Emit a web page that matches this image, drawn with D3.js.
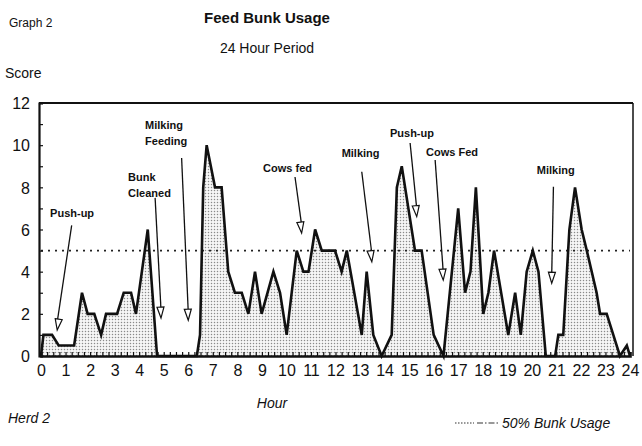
<!DOCTYPE html>
<html>
<head>
<meta charset="utf-8">
<script src="https://cdn.jsdelivr.net/npm/d3@7"></script>
<style>
  body { margin: 0; background: #fff; }
  text { font-family: "Liberation Sans", Arial, sans-serif; fill: #111; }
</style>
</head>
<body>
<div id="chart"></div>
<script>
// hour of day and bunk score
const hours = [0, 0.1, 0.45, 0.72, 1.35, 1.67, 1.9, 2.17, 2.45, 2.65, 3.1, 3.37, 3.67, 3.87, 4.35, 4.73,
  6.35, 6.48, 6.61, 6.75, 7.09, 7.36, 7.63, 7.9, 8.18, 8.45, 8.72, 8.99, 9.47, 9.74, 10.01,
  10.42, 10.69, 10.9, 11.17, 11.44, 11.98, 12.25, 12.46, 13.07, 13.27, 13.54, 13.88, 14.29,
  14.5, 14.7, 15.24, 15.51, 16.0, 16.4, 17.0, 17.28, 17.5, 17.72, 18.02, 18.23, 18.46, 19.04,
  19.32, 19.55, 19.79, 20.04, 20.27, 20.57, 20.95, 21.08, 21.28, 21.53, 21.76, 22.03, 22.24,
  22.64, 22.78, 23.05, 23.32, 23.59, 23.87, 24];
const scores = [0, 1, 1, 0.5, 0.5, 3, 2, 2, 1, 2, 2, 3, 3, 2, 6, 0,
  0, 1, 8, 10, 8, 8, 4, 3, 3, 2, 4, 2, 4, 3, 1,
  5, 4, 4, 6, 5, 5, 4, 5, 1, 4, 1, 0, 1,
  8, 9, 5, 5, 1, 0, 7, 3, 4, 8, 2, 3, 5, 1,
  3, 1, 4, 5, 4, 0, 0, 1, 1, 6, 8, 6, 5,
  3, 2, 2, 1, 0, 0.5, 0];
const yTicks = [0, 2, 4, 6, 8, 10, 12];
const xTicks = d3.range(0, 25);
const halfUsage = 5;

// event notes: text position and arrow (hour, score)
const notes = [
  {lines: ['Push-up'], tx: 0.37, ty: 6.59, x1: 1.25, y1: 6.2, x2: 0.66, y2: 1.23},
  {lines: ['Bunk', 'Cleaned'], tx: 3.55, ty: 8.3, x1: 4.65, y1: 7.5, x2: 4.89, y2: 1.8},
  {lines: ['Milking', 'Feeding'], tx: 4.24, ty: 10.77, x1: 5.73, y1: 9.39, x2: 6.0, y2: 1.7},
  {lines: ['Cows fed'], tx: 9.05, ty: 8.73, x1: 10.35, y1: 8.49, x2: 10.62, y2: 5.83},
  {lines: ['Milking'], tx: 12.25, ty: 9.44, x1: 13.07, y1: 8.74, x2: 13.48, y2: 4.47},
  {lines: ['Push-up'], tx: 14.22, ty: 10.39, x1: 15.04, y1: 10.1, x2: 15.31, y2: 6.61},
  {lines: ['Cows Fed'], tx: 15.69, ty: 9.49, x1: 16.06, y1: 9.3, x2: 16.39, y2: 3.6},
  {lines: ['Milking'], tx: 20.2, ty: 8.63, x1: 20.88, y1: 8.03, x2: 20.81, y2: 3.45}
];

const width = 642, height = 446;
const svg = d3.select('#chart').append('svg')
  .attr('width', width).attr('height', height);

const x = d3.scaleLinear().domain([0, 24]).range([41, 630]);
const y = d3.scaleLinear().domain([0, 12]).range([356, 103]);

const defs = svg.append('defs');
const pat = defs.append('pattern')
  .attr('id', 'stipple').attr('patternUnits', 'userSpaceOnUse')
  .attr('width', 3).attr('height', 3);
pat.append('rect').attr('width', 3).attr('height', 3).attr('fill', '#f6f6f6');
pat.append('circle').attr('cx', 1.5).attr('cy', 1.5).attr('r', 0.75).attr('fill', '#8a8a8a');

const data = hours.map((h, i) => ({h: h, v: scores[i]}));

// titles
svg.append('text').attr('x', 9).attr('y', 27).style('font-size', '12px').text('Graph 2');
svg.append('text').attr('x', 267).attr('y', 23).attr('text-anchor', 'middle')
  .style('font-size', '15px').style('font-weight', 'bold').text('Feed Bunk Usage');
svg.append('text').attr('x', 267).attr('y', 53).attr('text-anchor', 'middle')
  .style('font-size', '14px').text('24 Hour Period');
svg.append('text').attr('x', 5).attr('y', 78).style('font-size', '14px').text('Score');

// shaded area and line
const area = d3.area().x(d => x(d.h)).y0(y(0)).y1(d => y(d.v));
const line = d3.line().x(d => x(d.h)).y(d => y(d.v));

svg.append('path').datum(data).attr('d', area).attr('fill', 'url(#stipple)');

// 50% usage line
svg.append('line')
  .attr('x1', x(0)).attr('x2', x(24)).attr('y1', y(halfUsage)).attr('y2', y(halfUsage))
  .style('stroke', '#222').style('stroke-width', 1.6).attr('stroke-dasharray', '2 5');

svg.append('path').datum(data).attr('d', line)
  .attr('fill', 'none').attr('stroke', '#111').attr('stroke-width', 2.6)
  .attr('stroke-linejoin', 'miter');

// frame
svg.append('line').attr('x1', 39).attr('x2', 633).attr('y1', y(12)).attr('y2', y(12))
  .style('stroke', '#111').style('stroke-width', 2);
svg.append('line').attr('x1', 633).attr('x2', 633).attr('y1', y(12)).attr('y2', y(0))
  .style('stroke', '#111').style('stroke-width', 1.5);

// axes
const yAxis = d3.axisLeft(y).tickValues(d3.range(0, 13)).tickSize(-4)
  .tickFormat(d => yTicks.includes(d) ? d : '');
const yg = svg.append('g').attr('transform', 'translate(39,0)').call(yAxis);
yg.select('.domain').attr('stroke', '#111').attr('stroke-width', 2.2);
yg.selectAll('.tick line').attr('stroke', '#111').attr('stroke-width', 1.2);
yg.selectAll('.tick text').attr('x', -9).attr('dy', '0.36em')
  .style('font-size', '16px').style('font-family', '"Liberation Sans", Arial, sans-serif');

const xAxis = d3.axisBottom(x).tickValues(d3.range(0, 24.01, 0.25)).tickSize(-4)
  .tickFormat(d => xTicks.includes(d) ? d : '');
const xg = svg.append('g').attr('transform', 'translate(0,' + y(0) + ')').call(xAxis);
xg.select('.domain').attr('stroke', '#111').attr('stroke-width', 2.6);
xg.selectAll('.tick line').attr('stroke', '#111').attr('stroke-width', 1.2);
xg.selectAll('.tick text').attr('y', 9).attr('dy', '0.71em')
  .style('font-size', '16px')
  .style('font-family', '"Liberation Sans Narrow", "Liberation Sans", Arial, sans-serif');

svg.append('text').attr('x', 272).attr('y', 408).attr('text-anchor', 'middle')
  .style('font-size', '14px').style('font-style', 'italic').text('Hour');
svg.append('text').attr('x', 8).attr('y', 423)
  .style('font-size', '14px').style('font-style', 'italic').text('Herd 2');

// legend
svg.append('line').attr('x1', 455).attr('x2', 474).attr('y1', 423).attr('y2', 423)
  .style('stroke', '#333').style('stroke-width', 1.2).attr('stroke-dasharray', '1.5 1.5');
svg.append('line').attr('x1', 477).attr('x2', 498).attr('y1', 423).attr('y2', 423)
  .style('stroke', '#333').style('stroke-width', 1.2).attr('stroke-dasharray', '6 2 1.5 2');
svg.append('text').attr('x', 502).attr('y', 428)
  .style('font-size', '14px').style('font-style', 'italic').text('50% Bunk Usage');

// notes with arrows
const ng = svg.selectAll('.note').data(notes).enter().append('g').attr('class', 'note');
ng.each(function(d) {
  const g = d3.select(this);
  d.lines.forEach((t, i) => {
    g.append('text').attr('x', x(d.tx)).attr('y', y(d.ty) + i * 16)
      .style('font-size', '11px').style('font-weight', 'bold').text(t);
  });
  const ax1 = x(d.x1), ay1 = y(d.y1), ax2 = x(d.x2), ay2 = y(d.y2);
  const ang = Math.atan2(ay2 - ay1, ax2 - ax1) * 180 / Math.PI - 90;
  g.append('line').attr('x1', ax1).attr('y1', ay1).attr('x2', ax2).attr('y2', ay2 - 8)
    .style('stroke', '#111').style('stroke-width', 1.3);
  g.append('path')
    .attr('d', 'M-3.5,-11 L3.5,-11 L0,0 Z')
    .attr('transform', 'translate(' + ax2 + ',' + ay2 + ') rotate(' + ang + ')')
    .attr('fill', '#fff').attr('stroke', '#111').attr('stroke-width', 1.2);
});
</script>
</body>
</html>
